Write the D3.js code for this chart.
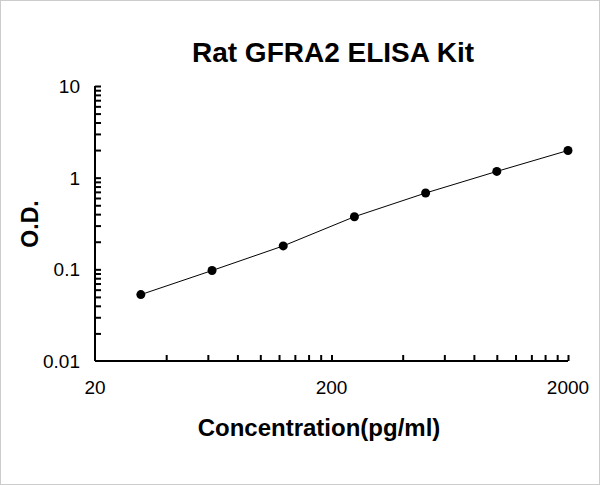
<!DOCTYPE html>
<html><head><meta charset="utf-8">
<script src="https://cdn.jsdelivr.net/npm/d3@7"></script>
<style>body{margin:0;background:#fff}text{font-family:Arial,"Liberation Sans",sans-serif}</style>
</head><body>
<script>
const conc = [31.25, 62.5, 125, 250, 500, 1000, 2000];
const od = [0.053, 0.097, 0.18, 0.375, 0.68, 1.17, 1.98];
const xTickLabels = [20, 200, 2000];
const yTickLabels = [0.01, 0.1, 1, 10];

const svg = d3.select("body").append("svg").attr("width", 600).attr("height", 485);
svg.append("rect").attr("x", 0.5).attr("y", 0.5).attr("width", 599).attr("height", 484)
  .attr("fill", "#fff").attr("stroke", "#ccc");

const x = d3.scaleLog().domain([20, 2000]).range([95, 568]);
const y = d3.scaleLog().domain([0.01, 10]).range([361, 86]);

// minor ticks (multiples of each decade start)
const xMinor = [], yMinor = [];
[20, 200].forEach(b => { for (let k = 2; k <= 10; k++) xMinor.push(b * k); });
[0.01, 0.1, 1].forEach(b => { for (let k = 2; k <= 10; k++) yMinor.push(b * k); });

svg.append("g").attr("transform", "translate(0,361)")
  .call(d3.axisTop(x).tickValues(xMinor).tickSize(6).tickFormat(""))
  .call(g => g.select(".domain").attr("d", "M95,0H568"))
  .selectAll("line,path").attr("stroke", "#000").attr("stroke-width", 2);
svg.append("g").attr("transform", "translate(95,0)")
  .call(d3.axisRight(y).tickValues(yMinor).tickSize(6).tickFormat(""))
  .call(g => g.select(".domain").attr("d", "M0,86V361"))
  .selectAll("line,path").attr("stroke", "#000").attr("stroke-width", 2);

svg.selectAll(".xl").data(xTickLabels).enter().append("text")
  .attr("x", d => x(d)).attr("y", 394).attr("text-anchor", "middle")
  .attr("font-size", 19).text(d => d);
svg.selectAll(".yl").data(yTickLabels).enter().append("text")
  .attr("x", 80).attr("y", d => y(d) + 7).attr("text-anchor", "end")
  .attr("font-size", 19).text(d => d);

svg.append("path").datum(conc.map((c, i) => [c, od[i]]))
  .attr("fill", "none").attr("stroke", "#000").attr("stroke-width", 1)
  .attr("d", d3.line().x(d => x(d[0])).y(d => y(d[1])));
svg.selectAll("circle").data(conc).enter().append("circle")
  .attr("cx", d => x(d)).attr("cy", (d, i) => y(od[i])).attr("r", 4.5).attr("fill", "#000");

svg.append("text").attr("x", 333).attr("y", 62).attr("text-anchor", "middle")
  .attr("font-size", 28).attr("font-weight", "bold").text("Rat GFRA2 ELISA Kit");
svg.append("text").attr("x", 319).attr("y", 436).attr("text-anchor", "middle")
  .attr("font-size", 24).attr("font-weight", "bold").text("Concentration(pg/ml)");
svg.append("text").attr("transform", "translate(38,224) rotate(-90)").attr("text-anchor", "middle")
  .attr("font-size", 23).attr("font-weight", "bold").text("O.D.");
</script>
</body></html>
